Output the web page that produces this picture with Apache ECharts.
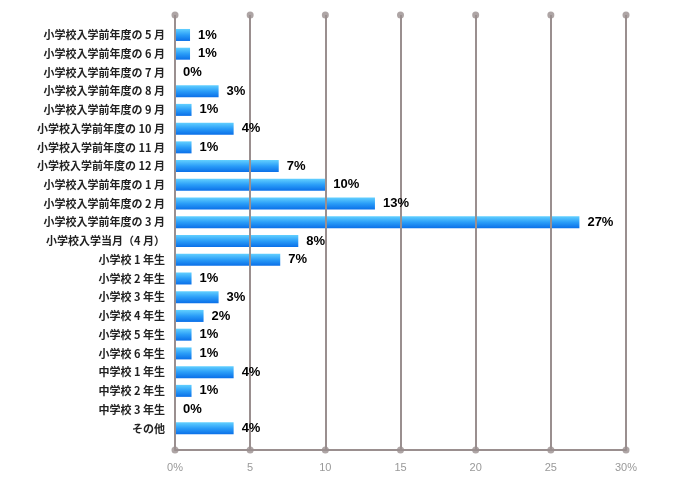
<!DOCTYPE html>
<html><head><meta charset="utf-8">
<script src="https://cdn.jsdelivr.net/npm/echarts@6/dist/echarts.min.js"></script>
<style>html,body{margin:0;padding:0;background:#fff}#c{width:700px;height:482px}</style>
</head><body><div id="c"></div>
<script>
const categories = [
  '小学校入学前年度の 5 月','小学校入学前年度の 6 月','小学校入学前年度の 7 月','小学校入学前年度の 8 月',
  '小学校入学前年度の 9 月','小学校入学前年度の 10 月','小学校入学前年度の 11 月','小学校入学前年度の 12 月',
  '小学校入学前年度の 1 月','小学校入学前年度の 2 月','小学校入学前年度の 3 月','小学校入学当月（4 月）',
  '小学校 1 年生','小学校 2 年生','小学校 3 年生','小学校 4 年生','小学校 5 年生','小学校 6 年生',
  '中学校 1 年生','中学校 2 年生','中学校 3 年生','その他'
];
const values = [1.0,1.0,0,2.9,1.1,3.9,1.1,6.9,10.0,13.3,26.9,8.2,7.0,1.1,2.9,1.9,1.1,1.1,3.9,1.1,0,3.9];
const valueLabels = ['1%','1%','0%','3%','1%','4%','1%','7%','10%','13%','27%','8%','7%','1%','3%','2%','1%','1%','4%','1%','0%','4%'];
const xTicks = [0,5,10,15,20,25,30];
const xTickLabels = ['0%','5','10','15','20','25','30%'];

const lineColor = '#9a8f8f';
const dots = [];
xTicks.forEach(t => { dots.push([t,0]); dots.push([t,1]); });

const chart = echarts.init(document.getElementById('c'));
chart.setOption({
  animation: false,
  grid: [
    {left:175, right:74, top:25.6, bottom:44.3},
    {left:175, right:74, top:15, bottom:32}
  ],
  xAxis: [
    {gridIndex:0, type:'value', min:0, max:30, interval:5, show:false},
    {gridIndex:1, type:'value', min:0, max:30, interval:5, z:5,
     axisLine:{show:true, lineStyle:{color:lineColor, width:2}},
     axisTick:{show:false},
     splitLine:{show:true, lineStyle:{color:lineColor, width:2}},
     axisLabel:{color:'#999', fontSize:11, fontFamily:'Liberation Sans, Arial', margin:12,
       formatter:(v)=>xTickLabels[xTicks.indexOf(v)]}}
  ],
  yAxis: [
    {gridIndex:0, type:'category', data:categories, inverse:true,
     axisLine:{show:false}, axisTick:{show:false}, splitLine:{show:false},
     axisLabel:{color:'#222', fontSize:11, fontWeight:'bold', margin:10,
       fontFamily:'Noto Sans CJK JP, sans-serif'}},
    {gridIndex:1, type:'value', min:0, max:1, show:false}
  ],
  series: [
    {type:'bar', xAxisIndex:0, yAxisIndex:0, data:values, barWidth:12, z:2, silent:true,
     itemStyle:{color:new echarts.graphic.LinearGradient(0,0,0,1,[
       {offset:0,color:'#62d0ff'},{offset:0.5,color:'#2a9df8'},{offset:1,color:'#0a6fe8'}])}},
    {type:'bar', xAxisIndex:0, yAxisIndex:0, data:values, barWidth:12, barGap:'-100%', z:8,
     itemStyle:{color:'rgba(0,0,0,0)'},
     label:{show:true, position:'right', distance:8, color:'#000', fontSize:13, fontWeight:'bold',
       fontFamily:'Liberation Sans, Arial',
       formatter:(p)=>valueLabels[p.dataIndex]}},
    {type:'scatter', xAxisIndex:1, yAxisIndex:1, data:dots, symbol:'circle', symbolSize:7, z:6,
     itemStyle:{color:lineColor}, silent:true}
  ]
});
</script></body></html>
